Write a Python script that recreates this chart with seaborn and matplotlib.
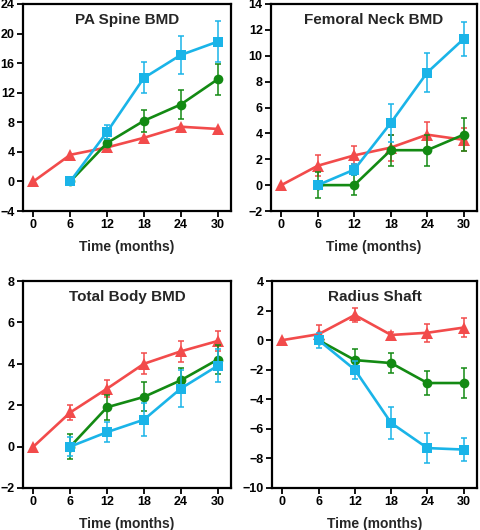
import numpy as np
import pandas as pd
import seaborn as sns
import matplotlib.pyplot as plt

# time points (months)
months = [0, 6, 12, 18, 24, 30]
months_tx = [6, 12, 18, 24, 30]

# PA Spine BMD
spine_red = [0, 3.6, 4.6, 5.9, 7.4, 7.1]
spine_red_err = [0, 0, 0, 0, 0, 0]
spine_blue = [0, 6.7, 14.0, 17.1, 18.9]
spine_blue_err = [0, 1.0, 2.1, 2.6, 2.8]
spine_green = [0, 5.2, 8.2, 10.4, 13.8]
spine_green_err = [0, 0.6, 1.5, 2.0, 2.1]

# Femoral Neck BMD
neck_red = [0, 1.5, 2.3, 2.9, 3.9, 3.5]
neck_red_err = [0, 0.8, 0.7, 1.0, 1.0, 0.9]
neck_blue = [0, 1.2, 4.8, 8.7, 11.3]
neck_blue_err = [0, 0.4, 1.5, 1.5, 1.3]
neck_green = [0, 0, 2.7, 2.7, 3.9]
neck_green_err = [1.0, 0.8, 1.2, 1.2, 1.3]

# Total Body BMD
body_red = [0, 1.65, 2.8, 4.0, 4.6, 5.1]
body_red_err = [0, 0.35, 0.4, 0.5, 0.5, 0.5]
body_blue = [0, 0.7, 1.3, 2.8, 3.9]
body_blue_err = [0.45, 0.5, 0.8, 0.9, 0.8]
body_green = [0, 1.9, 2.4, 3.2, 4.2]
body_green_err = [0.6, 0.6, 0.7, 0.6, 0.7]

# Radius Shaft
radius_red = [0, 0.4, 1.7, 0.35, 0.5, 0.85]
radius_red_err = [0, 0.6, 0.5, 0.2, 0.6, 0.65]
radius_blue = [0, -2.0, -5.6, -7.3, -7.4]
radius_blue_err = [0.5, 0.6, 1.1, 1.0, 0.8]
radius_green = [0, -1.35, -1.55, -2.9, -2.9]
radius_green_err = [0, 0.75, 0.65, 0.8, 1.0]

titles = ["PA Spine BMD", "Femoral Neck BMD", "Total Body BMD", "Radius Shaft"]
ylims = [(-4, 24), (-2, 14), (-2, 8), (-10, 4)]
ysteps = [4, 2, 2, 2]

panels = [
    (spine_red, spine_red_err, spine_blue, spine_blue_err, spine_green, spine_green_err),
    (neck_red, neck_red_err, neck_blue, neck_blue_err, neck_green, neck_green_err),
    (body_red, body_red_err, body_blue, body_blue_err, body_green, body_green_err),
    (radius_red, radius_red_err, radius_blue, radius_blue_err, radius_green, radius_green_err),
]

RED = "#f24b4b"
BLUE = "#1ab4e8"
GREEN = "#138a13"

sns.set_style("white")
plt.rcParams["font.family"] = ["Liberation Sans", "DejaVu Sans"]
plt.rcParams["font.weight"] = "bold"

fig = plt.figure(figsize=(4.8, 5.3), dpi=100)
positions = [
    [23 / 480, 1 - 211 / 530, 208 / 480, 207 / 530],
    [271 / 480, 1 - 211 / 530, 206 / 480, 207 / 530],
    [23 / 480, 1 - 488 / 530, 208 / 480, 207 / 530],
    [272 / 480, 1 - 488 / 530, 205 / 480, 207 / 530],
]

styles = {"red": (RED, "^", 8.5), "blue": (BLUE, "s", 7.5), "green": (GREEN, "o", 7)}

for i, (pos, data) in enumerate(zip(positions, panels)):
    ax = fig.add_axes(pos)
    red, red_err, blue, blue_err, green, green_err = data
    frames = [
        pd.DataFrame({"t": months, "v": red, "e": red_err, "grp": "red"}),
        pd.DataFrame({"t": months_tx, "v": green, "e": green_err, "grp": "green"}),
        pd.DataFrame({"t": months_tx, "v": blue, "e": blue_err, "grp": "blue"}),
    ]
    # red at the bottom, blue on top
    for k, df in enumerate(frames):
        color, marker, ms = styles[df["grp"][0]]
        err = df[df["e"] > 0]
        ax.errorbar(err["t"], err["v"], yerr=err["e"], fmt="none", ecolor=color,
                    elinewidth=1.1, capsize=2.5, capthick=1.1, zorder=2 + k)
        sns.lineplot(data=df, x="t", y="v", ax=ax, color=color, linewidth=1.9,
                     marker=marker, markersize=ms, markeredgecolor=color,
                     markeredgewidth=0, zorder=3 + k)

    ax.set_xlim(-1.7, 32.2)
    ax.set_ylim(*ylims[i])
    ax.set_xticks(months)
    ax.set_yticks(np.arange(ylims[i][0], ylims[i][1] + 0.1, ysteps[i]))
    ax.tick_params(axis="both", direction="out", length=4, width=1.3, labelsize=9,
                   pad=2, left=True, bottom=True, colors="black")
    for lbl in ax.get_xticklabels() + ax.get_yticklabels():
        lbl.set_fontweight("bold")
    for sp in ax.spines.values():
        sp.set_visible(True)
        sp.set_color("black")
        sp.set_linewidth(1.6)
    ax.set_xlabel("Time (months)", fontsize=10, fontweight="bold", labelpad=6)
    ax.set_ylabel("")
    ax.text(0.5, 0.922, titles[i], transform=ax.transAxes, ha="center", va="center",
            fontsize=11, fontweight="bold")

fig.savefig("out.png", dpi=100)
